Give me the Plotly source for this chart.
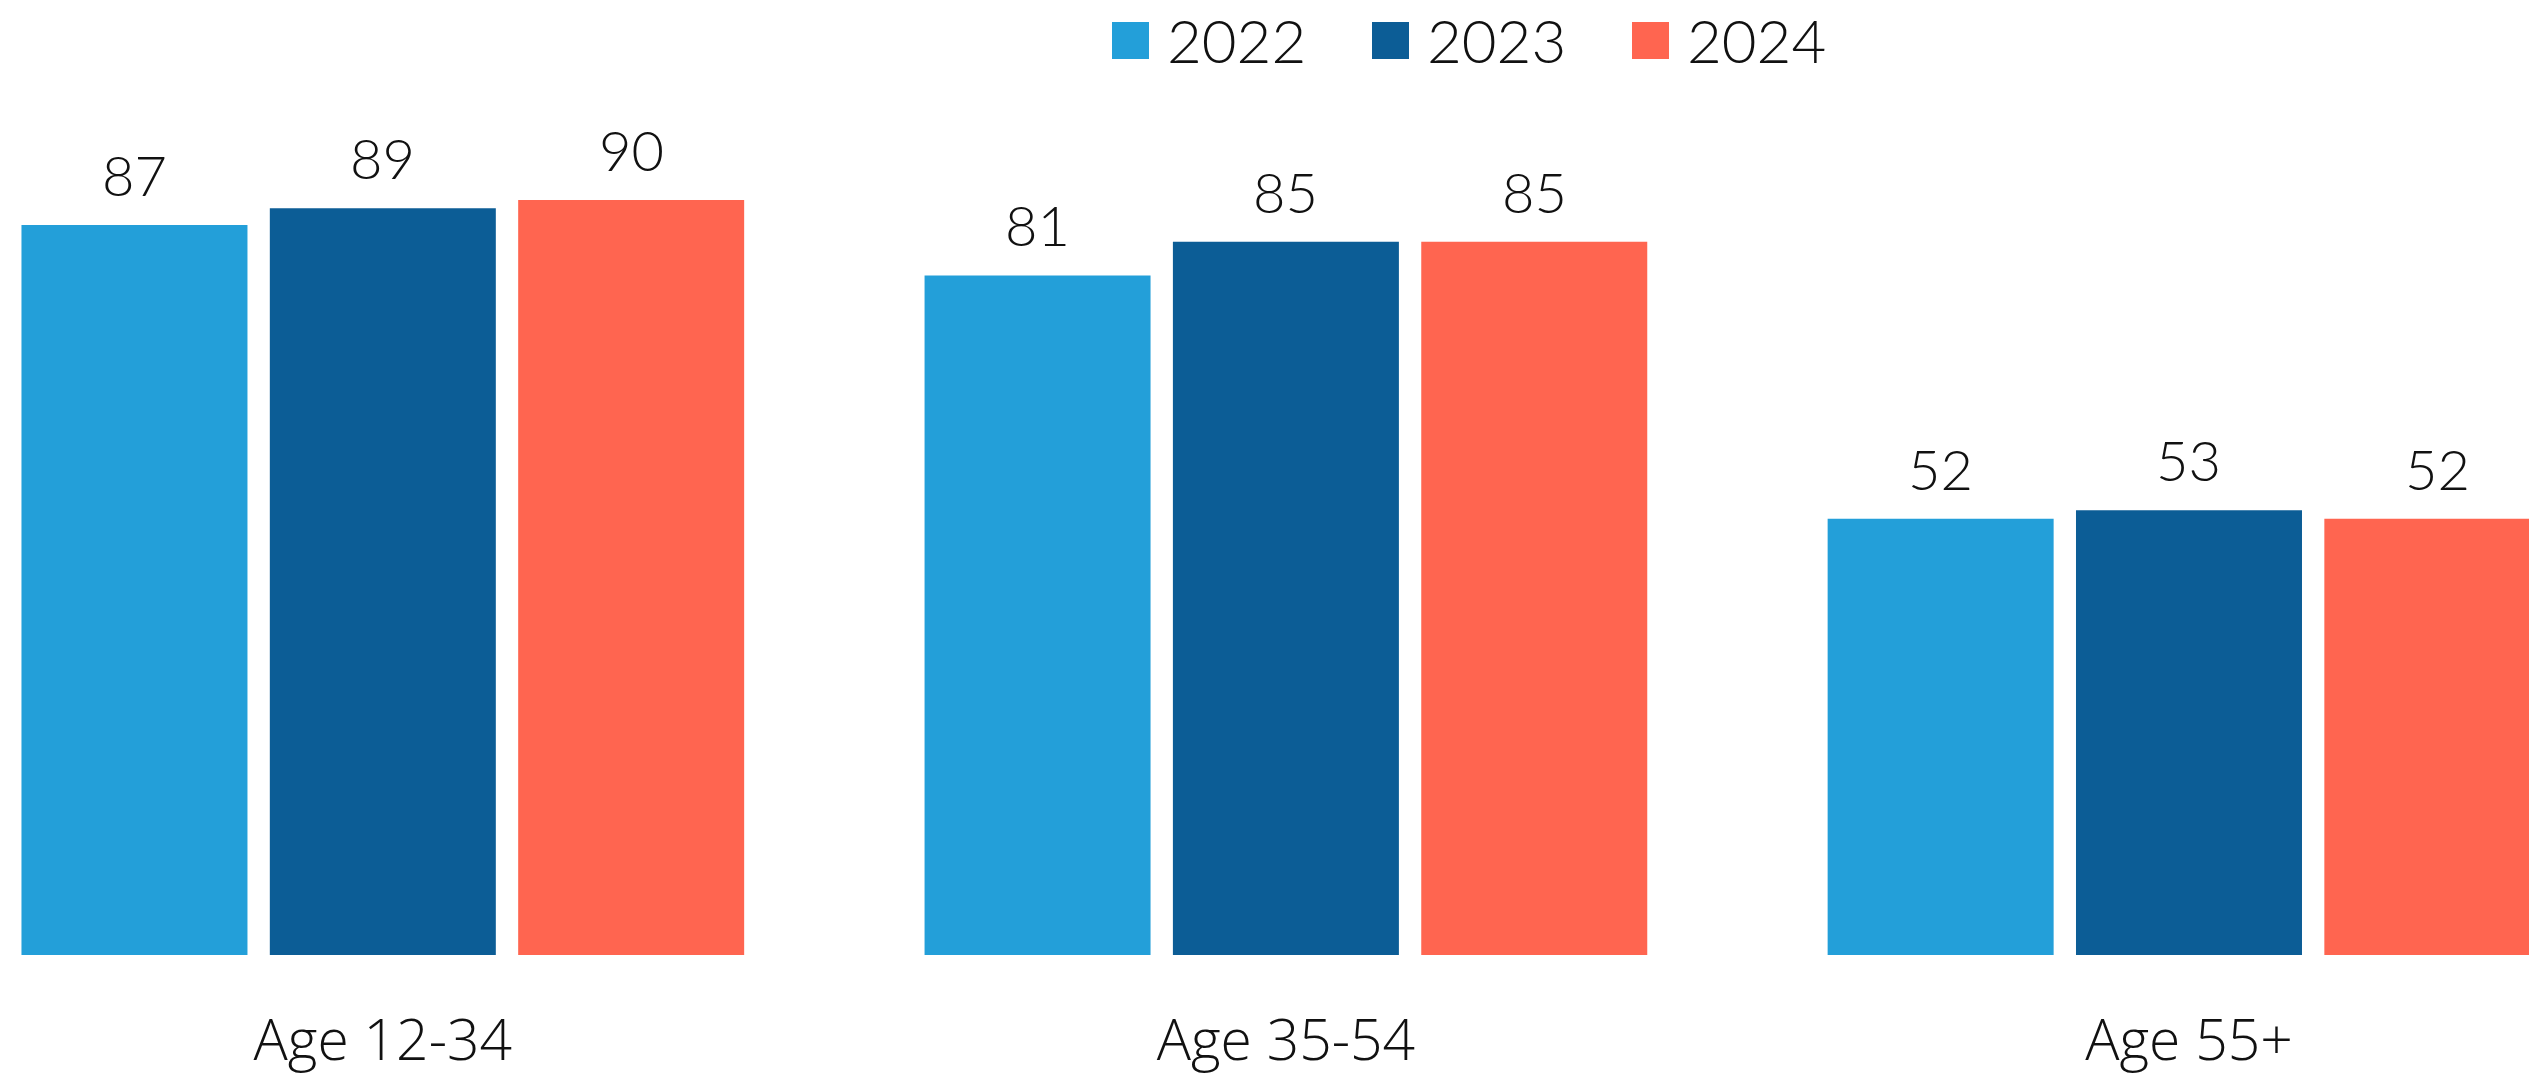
import plotly.graph_objects as go

# Share of each age group, by survey year
age_groups = ["Age 12-34", "Age 35-54", "Age 55+"]
years = ["2022", "2023", "2024"]
values_2022 = [87, 81, 52]
values_2023 = [89, 85, 53]
values_2024 = [90, 85, 52]
series_values = [values_2022, values_2023, values_2024]
series_colors = ["#239FD9", "#0C5D96", "#FF6550"]

W, H = 2529, 1076
MARGIN_T, MARGIN_B = 116, 121
plot_h = H - MARGIN_T - MARGIN_B

X_RANGE = [-0.4239, 2.3765]
BARGAP = 0.175
BARGROUPGAP = 0.09

label_font = dict(family="Lato", size=56, color="#111111", weight=300)
axis_font = dict(family="Open Sans", size=57, color="#111111", weight=300)

fig = go.Figure()
for name, vals, color in zip(years, series_values, series_colors):
    fig.add_trace(go.Bar(
        x=age_groups,
        y=vals,
        name=name,
        marker=dict(color=color, line=dict(width=0)),
        showlegend=False,
    ))

# Value labels above each bar: anchored at (category, value) and
# shifted sideways by the bar's slot within its group
px_per_cat = W / (X_RANGE[1] - X_RANGE[0])
slot_px = px_per_cat * (1 - BARGAP) / len(years)
for i, vals in enumerate(series_values):
    shift = (i - (len(years) - 1) / 2) * slot_px
    for cat, v in zip(age_groups, vals):
        fig.add_annotation(
            x=cat, y=v, xref="x", yref="y",
            xanchor="center", yanchor="bottom",
            xshift=shift, yshift=15,
            text=str(v), showarrow=False,
            font=label_font,
        )

# Legend row: coloured squares followed by year labels
def px_to_paper_x(px):
    return px / W

def px_to_paper_y(py):
    return (H - MARGIN_B - py) / plot_h

legend_x0 = 1112
legend_step = 260
sq = 37
sq_top = 22
for i, (name, color) in enumerate(zip(years, series_colors)):
    x0 = legend_x0 + i * legend_step
    fig.add_shape(
        type="rect", xref="paper", yref="paper",
        x0=px_to_paper_x(x0), x1=px_to_paper_x(x0 + sq),
        y0=px_to_paper_y(sq_top + sq), y1=px_to_paper_y(sq_top),
        fillcolor=color, line=dict(width=0), layer="above",
    )
    fig.add_annotation(
        x=px_to_paper_x(x0 + sq + 16), y=px_to_paper_y(sq_top + sq / 2),
        xref="paper", yref="paper", xanchor="left", yanchor="middle",
        text=name, showarrow=False,
        font=dict(family="Lato", size=60, color="#111111", weight=300),
    )

fig.update_layout(
    width=W, height=H,
    margin=dict(l=0, r=0, t=MARGIN_T, b=MARGIN_B, pad=0, autoexpand=False),
    barmode="group",
    bargap=BARGAP,
    bargroupgap=BARGROUPGAP,
    plot_bgcolor="white",
    paper_bgcolor="white",
    showlegend=False,
)
fig.update_xaxes(
    range=X_RANGE, automargin=False,
    showgrid=False, zeroline=False, showline=False,
    ticks="outside", ticklen=36, tickcolor="rgba(0,0,0,0)",
    tickfont=axis_font,
)
fig.update_yaxes(
    range=[0, 100], visible=False, showgrid=False, zeroline=False,
    automargin=False,
)

fig.write_html("out.html")
